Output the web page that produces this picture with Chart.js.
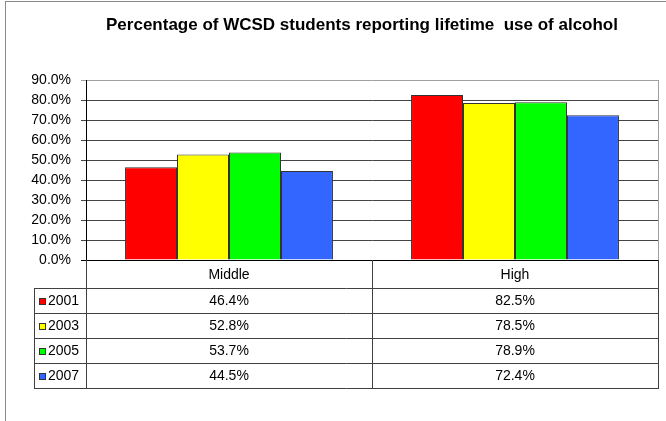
<!DOCTYPE html>
<html>
<head>
<meta charset="utf-8">
<script src="https://cdn.jsdelivr.net/npm/chart.js@4.4.1/dist/chart.umd.min.js"></script>
<style>
html, body { margin: 0; padding: 0; background: #fff; }
</style>
</head>
<body>
<canvas id="alcoholChart" width="666" height="421"></canvas>
<script>
// values (percent)
const categories = ["Middle", "High"];
const years = ["2001", "2003", "2005", "2007"];
const values2001 = [46.4, 82.5];
const values2003 = [52.8, 78.5];
const values2005 = [53.7, 78.9];
const values2007 = [44.5, 72.4];
const yearColors = ["#ff0000", "#ffff00", "#00ff00", "#3366ff"];
const yMax = 90;
const yStep = 10;
const titleText = "Percentage of WCSD students reporting lifetime  use of alcohol";

const allValues = [values2001, values2003, values2005, values2007];
const fontFamily = "'Liberation Sans', Arial, sans-serif";

// excel style data table under the plot
const dataTable = {
    id: "dataTable",
    beforeDraw(chart)
    {
        const ctx = chart.ctx;
        ctx.save();
        ctx.strokeStyle = "#8a8a8a";
        ctx.lineWidth = 1;
        ctx.strokeRect(5.5, 1.5, 700, 500);

        // title sits a bit right of centre, like in the sheet
        ctx.fillStyle = "#000";
        ctx.font = "bold 17px " + fontFamily;
        ctx.textAlign = "center";
        ctx.textBaseline = "alphabetic";
        ctx.fillText(titleText, 362, 30);
        ctx.restore();
    },
    afterDraw(chart)
    {
        const ctx = chart.ctx;
        const area = chart.chartArea;
        const top = area.bottom;
        const headH = 28;
        const rowH = 25;
        const keyLeft = 34;
        const colW = (area.right - area.left) / categories.length;
        const bottom = top + headH + rowH * years.length;

        ctx.save();
        ctx.lineWidth = 1;

        // plot area right edge
        ctx.strokeStyle = "#a0a0a0";
        ctx.beginPath();
        ctx.moveTo(Math.round(area.right) + 0.5, area.top);
        ctx.lineTo(Math.round(area.right) + 0.5, area.bottom);
        ctx.stroke();

        ctx.strokeStyle = "#404040";
        ctx.beginPath();
        // row lines
        for (let r = 0; r <= years.length; r++)
        {
            const y = Math.round(top + headH + r * rowH) + 0.5;
            ctx.moveTo(keyLeft, y);
            ctx.lineTo(area.right + 1, y);
        }
        // column lines
        for (let c = 0; c <= categories.length; c++)
        {
            const x = Math.round(area.left + c * colW) + 0.5;
            ctx.moveTo(x, top);
            ctx.lineTo(x, bottom);
        }
        ctx.moveTo(keyLeft + 0.5, top + headH);
        ctx.lineTo(keyLeft + 0.5, bottom);
        ctx.stroke();

        ctx.fillStyle = "#000";
        ctx.font = "14px " + fontFamily;
        ctx.textBaseline = "middle";
        ctx.textAlign = "center";

        categories.forEach((cat, c) => {
            ctx.fillText(cat, area.left + (c + 0.5) * colW, top + headH / 2 + 1);
        });

        years.forEach((year, r) => {
            const cy = top + headH + (r + 0.5) * rowH + 1;
            allValues[r].forEach((v, c) => {
                ctx.textAlign = "center";
                ctx.fillText(v.toFixed(1) + "%", area.left + (c + 0.5) * colW, cy);
            });
            // legend key
            ctx.fillStyle = yearColors[r];
            ctx.fillRect(39, Math.round(cy) - 4, 7, 7);
            ctx.strokeStyle = "#333";
            ctx.strokeRect(39.5, Math.round(cy) - 3.5, 6, 6);
            ctx.fillStyle = "#000";
            ctx.textAlign = "left";
            ctx.fillText(year, 48, cy);
        });

        ctx.restore();
    }
};

const datasets = years.map((year, i) => ({
    label: year,
    data: allValues[i],
    backgroundColor: yearColors[i],
    borderColor: "#333333",
    borderWidth: 1
}));

const chart = new Chart(document.getElementById("alcoholChart"), {
    type: "bar",
    data: {
        labels: categories,
        datasets: datasets
    },
    options: {
        responsive: false,
        animation: false,
        layout: {
            padding: { left: 0, right: 8, top: 80, bottom: 161 }
        },
        datasets: {
            bar: {
                barPercentage: 1,
                categoryPercentage: 0.727
            }
        },
        plugins: {
            legend: { display: false },
            tooltip: { enabled: false },
            title: { display: false }
        },
        scales: {
            x: {
                display: false
            },
            y: {
                min: 0,
                max: yMax,
                afterFit: (scale) => { scale.width = 86; },
                border: { color: "#000", width: 1 },
                grid: {
                    tickLength: 5,
                    color: (c) => {
                        if (c.tick && c.tick.value === 0) return "#000";
                        if (c.tick && c.tick.value === yMax) return "#a0a0a0";
                        return "#454545";
                    }
                },
                ticks: {
                    stepSize: yStep,
                    padding: 10,
                    color: "#000",
                    font: { family: fontFamily, size: 14 },
                    callback: (v) => v.toFixed(1) + "%"
                }
            }
        }
    },
    plugins: [dataTable]
});
</script>
</body>
</html>
